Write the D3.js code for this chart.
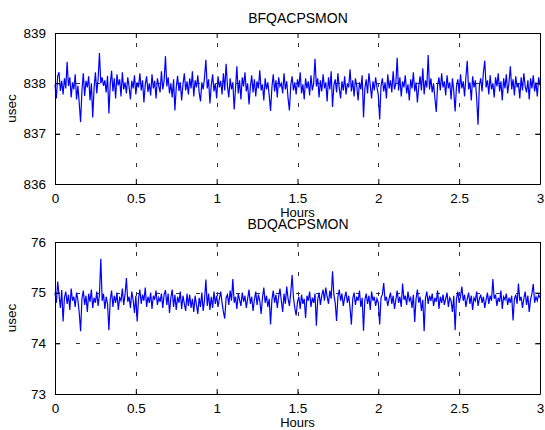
<!DOCTYPE html>
<html lang="en">
<head>
<meta charset="UTF-8">
<title>BFQACPSMON / BDQACPSMON</title>
<script src="https://d3js.org/d3.v7.min.js"></script>
<style>
  html, body { margin: 0; padding: 0; background: #fff; }
  svg { display: block; font-family: "Liberation Sans", Arial, Helvetica, sans-serif; }
</style>
</head>
<body>
<div id="chart"></div>
<script>
// sample spacing: one reading every 30 seconds over 3 hours
const sampleHours = 30 / 3600;

const xTicks = [0, 0.5, 1, 1.5, 2, 2.5, 3];
const topYTicks = [836, 837, 838, 839];
const botYTicks = [73, 74, 75, 76];

const topTitle = "BFQACPSMON";
const botTitle = "BDQACPSMON";

// BFQACPSMON readings (usec)
const topValues = [
  837.98, 837.70, 838.15, 838.22, 837.85, 838.05, 837.78, 838.10, 837.90, 838.43, 837.95, 838.12, 837.72, 838.02, 837.88, 838.18, 837.68, 837.95, 837.60, 837.23,
  837.85, 838.20, 837.75, 838.05, 837.92, 838.14, 837.66, 838.00, 837.32, 837.90, 838.22, 837.80, 838.08, 838.60, 838.00, 838.12, 837.95, 838.06, 837.82, 838.15,
  837.40, 837.98, 838.25, 837.84, 838.10, 837.70, 838.18, 837.96, 838.08, 837.74, 838.22, 837.88, 838.02, 837.80, 838.12, 837.93, 837.68, 838.05, 837.90, 838.16,
  837.78, 838.02, 837.92, 838.20, 837.86, 838.06, 837.62, 837.98, 838.14, 837.83, 838.00, 837.76, 838.18, 837.90, 838.05, 837.70, 838.10, 837.95, 837.82, 838.24,
  837.88, 838.05, 838.54, 837.94, 838.12, 837.80, 838.00, 837.72, 838.08, 837.46, 837.92, 838.15, 837.85, 838.02, 837.66, 837.98, 838.20, 837.86, 838.04, 837.78,
  838.10, 837.90, 838.24, 837.74, 838.06, 837.92, 838.16, 837.82, 837.64, 838.02, 837.88, 838.12, 838.47, 837.90, 838.08, 837.60, 837.96, 838.18, 837.84, 838.00,
  837.70, 838.14, 837.92, 838.05, 837.78, 838.20, 837.86, 838.39, 837.95, 837.72, 838.10, 837.88, 838.02, 837.48, 837.90, 838.34, 837.80, 838.06, 837.68, 838.12,
  837.94, 838.22, 837.84, 838.00, 837.58, 837.92, 838.16, 837.82, 838.08, 837.74, 838.04, 837.90, 838.26, 837.86, 837.98, 837.66, 838.10, 837.88, 838.02, 837.76,
  837.45, 837.92, 838.18, 837.84, 838.06, 837.72, 838.12, 837.94, 838.00, 837.80, 838.20, 837.88, 838.04, 837.70, 837.46, 837.96, 838.14, 837.86, 838.02, 837.78,
  838.08, 837.92, 838.22, 837.80, 837.98, 837.68, 838.10, 837.90, 838.04, 837.76, 838.16, 837.86, 838.00, 838.49, 837.94, 838.10, 837.72, 838.06, 837.84, 838.18,
  837.90, 838.02, 837.64, 838.12, 837.88, 838.24, 837.53, 837.96, 838.08, 837.82, 838.20, 837.90, 837.70, 838.04, 837.86, 838.14, 837.78, 838.00, 837.92, 838.28,
  837.84, 838.06, 837.74, 838.10, 837.94, 837.66, 838.02, 837.88, 838.16, 837.32, 837.90, 838.08, 837.80, 838.20, 837.96, 837.70, 838.04, 837.86, 838.12, 837.92,
  837.76, 837.28, 837.95, 838.10, 837.84, 838.02, 837.70, 838.18, 837.90, 838.06, 837.82, 838.24, 837.88, 838.00, 838.51, 837.86, 838.12, 837.74, 838.04, 837.92,
  838.16, 837.80, 837.98, 837.66, 838.08, 837.90, 838.22, 837.84, 838.02, 837.62, 837.94, 838.14, 837.86, 838.30, 837.78, 838.06, 837.92, 838.56, 837.88, 838.10,
  837.82, 838.00, 837.70, 837.43, 837.96, 838.12, 837.86, 838.20, 837.92, 838.04, 837.76, 838.16, 837.90, 838.02, 837.68, 838.10, 837.84, 837.44, 837.94, 838.08,
  837.80, 838.18, 837.90, 838.04, 837.74, 838.12, 838.45, 837.88, 838.02, 837.66, 838.14, 837.92, 838.06, 837.70, 837.18, 837.96, 838.10, 837.84, 838.22, 838.45,
  837.92, 838.06, 837.78, 838.16, 837.88, 838.00, 837.72, 838.12, 837.94, 838.20, 837.84, 838.04, 837.66, 838.10, 837.90, 838.18, 837.80, 838.02, 838.34, 837.88,
  838.08, 837.76, 838.14, 837.92, 838.00, 837.70, 838.12, 837.86, 838.20, 837.94, 837.82, 838.06, 837.68, 838.10, 837.90, 838.16, 837.84, 838.02, 837.74, 838.12,
  837.96
];

// BDQACPSMON readings (usec)
const botValues = [
  75.00, 74.80, 75.22, 74.95, 74.70, 75.05, 74.43, 74.90, 75.02, 74.78, 74.96, 74.66, 75.08, 74.84, 74.92, 74.72, 75.00, 74.86, 74.60, 74.24,
  74.88, 75.04, 74.76, 74.94, 74.62, 74.98, 74.82, 75.06, 74.70, 74.90, 74.80, 75.02, 74.74, 74.96, 75.67, 74.84, 74.98, 74.68, 74.92, 74.78,
  74.26, 74.86, 75.04, 74.72, 74.94, 74.80, 75.00, 74.66, 74.90, 74.84, 75.08, 74.76, 74.96, 75.29, 74.82, 74.92, 74.70, 75.02, 74.86, 74.60,
  74.94, 74.43, 74.88, 75.06, 74.78, 74.96, 74.84, 75.10, 74.72, 74.92, 74.80, 75.00, 74.68, 74.94, 74.86, 75.04, 74.76, 74.90, 74.82, 74.98,
  74.70, 74.96, 75.05, 74.76, 74.98, 74.60, 74.90, 75.06, 74.72, 74.96, 74.66, 74.92, 74.80, 75.02, 74.68, 74.94, 74.78, 74.64, 74.98, 74.74,
  74.96, 74.70, 74.88, 74.62, 74.94, 74.76, 74.58, 74.90, 74.72, 75.00, 74.64, 74.86, 75.26, 74.74, 74.98, 74.66, 74.92, 74.70, 75.02, 74.78,
  74.94, 74.72, 74.88, 75.02, 74.80, 74.62, 74.49, 74.90, 74.96, 74.76, 75.04, 74.84, 75.27, 74.80, 74.92, 74.68, 74.98, 74.86, 74.74, 75.00,
  74.82, 74.94, 74.70, 74.88, 75.06, 74.78, 74.92, 74.64, 74.86, 75.02, 74.76, 74.96, 74.84, 74.58, 74.90, 75.10, 74.80, 74.94, 74.72, 74.88,
  74.37, 74.86, 75.04, 74.80, 74.96, 74.70, 74.92, 75.08, 74.84, 74.62, 74.98, 74.78, 75.12, 74.88, 74.74, 75.00, 75.35, 74.90, 74.70, 74.55,
  74.82, 74.92, 74.68, 74.96, 74.78, 74.88, 74.50, 74.94, 74.84, 75.02, 74.72, 74.90, 74.80, 74.98, 74.35, 74.86, 75.00, 74.76, 74.94, 75.06,
  74.84, 75.10, 74.92, 74.78, 75.04, 74.88, 75.42, 74.96, 74.80, 74.44, 74.92, 75.06, 74.84, 74.98, 74.74, 74.90, 75.02, 74.80, 74.94, 74.70,
  74.37, 74.88, 75.00, 74.76, 74.92, 74.84, 75.04, 74.72, 74.90, 74.25, 74.86, 74.98, 74.78, 74.94, 74.66, 75.02, 74.84, 74.92, 74.74, 74.88,
  74.80, 74.37, 74.90, 74.96, 75.19, 74.84, 74.92, 74.74, 74.88, 75.00, 74.78, 74.94, 74.68, 74.86, 75.04, 74.80, 74.92, 74.72, 75.18, 74.86,
  74.94, 74.76, 75.02, 74.84, 74.90, 74.70, 74.96, 74.42, 74.88, 75.06, 74.80, 74.92, 74.64, 74.86, 74.24, 74.90, 75.02, 74.78, 74.94, 74.84,
  74.98, 74.74, 74.90, 74.82, 75.04, 74.68, 74.92, 74.80, 74.96, 74.76, 74.88, 75.00, 74.72, 74.90, 74.84, 74.62, 74.94, 74.26, 74.88, 75.02,
  74.80, 74.92, 75.12, 74.84, 74.96, 74.72, 74.88, 75.00, 74.78, 74.94, 74.66, 74.90, 74.84, 75.02, 74.74, 74.88, 74.96, 74.80, 74.92, 74.70,
  74.86, 75.00, 74.78, 74.94, 74.84, 75.27, 74.88, 74.96, 74.74, 74.90, 74.82, 75.04, 74.68, 74.92, 74.86, 74.98, 74.76, 74.90, 74.80, 74.94,
  74.45, 74.88, 74.96, 74.78, 75.18, 74.84, 74.92, 74.70, 74.88, 75.02, 74.76, 74.94, 74.62, 74.86, 74.98, 75.17, 74.80, 74.92, 74.84, 74.96,
  74.90
];

const width = 545, height = 430;
const svg = d3.select("#chart").append("svg")
  .attr("width", width)
  .attr("height", height);

const left = 55, right = 540;

function drawPanel(values, yTicks, title, top, bottom, titleY) {
  const x = d3.scaleLinear().domain([0, 3]).range([left, right]);
  const y = d3.scaleLinear().domain([yTicks[0], yTicks[yTicks.length - 1]]).range([bottom, top]);
  const g = svg.append("g");

  // grid (dotted look)
  g.append("g").selectAll("line")
    .data(xTicks.slice(1, -1))
    .join("line")
    .attr("x1", d => Math.round(x(d)) + 0.5).attr("x2", d => Math.round(x(d)) + 0.5)
    .attr("y1", top).attr("y2", bottom)
    .attr("stroke", "#333").attr("stroke-width", 1)
    .attr("stroke-dasharray", "4,16").attr("stroke-dashoffset", -10);
  g.append("g").selectAll("line")
    .data(yTicks.slice(1, -1))
    .join("line")
    .attr("y1", d => Math.round(y(d)) + 0.5).attr("y2", d => Math.round(y(d)) + 0.5)
    .attr("x1", left).attr("x2", right)
    .attr("stroke", "#333").attr("stroke-width", 1)
    .attr("stroke-dasharray", "4,16").attr("stroke-dashoffset", -1);

  // data line
  const line = d3.line()
    .x((d, i) => x(i * sampleHours))
    .y(d => y(d));
  g.append("path")
    .datum(values)
    .attr("d", line)
    .attr("fill", "none")
    .attr("stroke", "#0000ff")
    .attr("stroke-width", 1.2);

  // axes, ticks pointing inward
  const fmt = d => String(d);
  g.append("g").attr("transform", `translate(0,${bottom})`)
    .call(d3.axisBottom(x).tickValues(xTicks).tickFormat(fmt).tickSizeInner(-5).tickSizeOuter(0).tickPadding(9));
  g.append("g").attr("transform", `translate(0,${top})`)
    .call(d3.axisTop(x).tickValues(xTicks).tickFormat("").tickSizeInner(-5).tickSizeOuter(0));
  g.append("g").attr("transform", `translate(${left},0)`)
    .call(d3.axisLeft(y).tickValues(yTicks).tickFormat(fmt).tickSizeInner(-5).tickSizeOuter(0).tickPadding(9));
  g.append("g").attr("transform", `translate(${right},0)`)
    .call(d3.axisRight(y).tickValues(yTicks).tickFormat("").tickSizeInner(-5).tickSizeOuter(0));

  g.selectAll(".domain").attr("stroke", "#000");
  g.selectAll(".tick line").attr("stroke", "#000");
  g.selectAll(".tick text").attr("font-size", 13.5).attr("fill", "#000")
    .attr("font-family", "'Liberation Sans', Arial, sans-serif");

  // labels
  svg.append("text")
    .attr("x", (left + right) / 2 + 0.5).attr("y", titleY)
    .attr("text-anchor", "middle").attr("font-size", 14)
    .text(title);
  svg.append("text")
    .attr("x", (left + right) / 2).attr("y", bottom + 33)
    .attr("text-anchor", "middle").attr("font-size", 13)
    .text("Hours");
  svg.append("text")
    .attr("transform", `translate(16,${(top + bottom) / 2}) rotate(-90)`)
    .attr("text-anchor", "middle").attr("font-size", 13.5)
    .text("usec");
}

drawPanel(topValues, topYTicks, topTitle, 33, 184, 23);
drawPanel(botValues, botYTicks, botTitle, 242, 394, 229);
</script>
</body>
</html>
